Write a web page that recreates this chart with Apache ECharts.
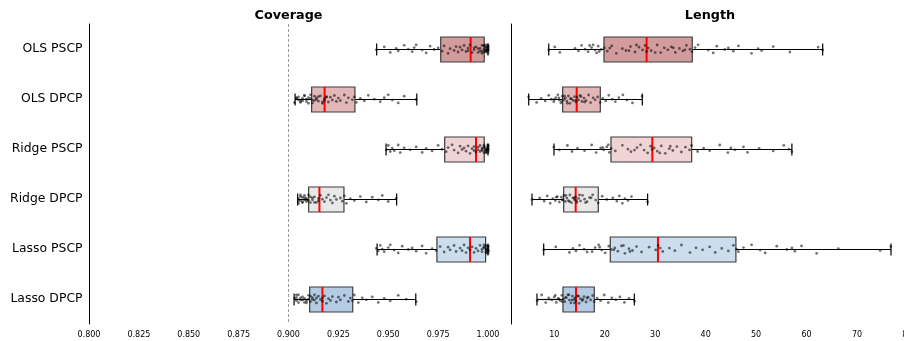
<!DOCTYPE html>
<html>
<head>
<meta charset="utf-8">
<script src="https://cdn.jsdelivr.net/npm/echarts@6/dist/echarts.min.js"></script>
<style>
html,body{margin:0;padding:0;background:#fff;}
#chart{width:904px;height:341px;}
</style>
</head>
<body>
<div id="chart"></div>
<script>
const categories = ['OLS PSCP','OLS DPCP','Ridge PSCP','Ridge DPCP','Lasso PSCP','Lasso DPCP'];
const boxColors = ['#d29b9c','#e2b7b8','#f0d4d5','#e8e8e8','#ccdeed','#b4cce3'];

// [min, Q1, median, Q3, max]
const coverageBoxes = [
  [0.9442, 0.9763, 0.9913, 0.9981, 1.0],
  [0.9033, 0.9116, 0.9181, 0.9333, 0.9643],
  [0.9489, 0.9783, 0.9940, 0.9981, 1.0],
  [0.9046, 0.9101, 0.9155, 0.9278, 0.9542],
  [0.9444, 0.9744, 0.9910, 0.9988, 1.0],
  [0.9028, 0.9106, 0.9170, 0.9322, 0.9638]
];
const lengthBoxes = [
  [8.9, 19.85, 28.3, 37.35, 63.2],
  [4.93, 11.66, 14.44, 19.12, 27.44],
  [9.94, 21.24, 29.43, 37.23, 57.1],
  [5.58, 11.86, 14.24, 18.72, 28.5],
  [7.9, 21.1, 30.55, 46.0, 76.74],
  [6.57, 11.72, 14.3, 17.93, 25.86]
];

const covOlsPscp = [0.944,0.948,0.951,0.954,0.955,0.958,0.960,0.962,0.963,0.964,0.967,0.969,0.971,0.973,0.975,0.977,0.978,0.980,0.981,0.983,0.984,0.985,0.986,0.987,0.988,0.989,0.990,0.990,0.991,0.992,0.993,0.993,0.994,0.995,0.996,0.996,0.997,0.998,0.998,0.999,0.999,1.0,1.0,1.0,1.0,1.0,0.999,0.998,0.997,0.995,1.0,1.0,0.999,0.999,1.0,0.998,0.997,1.0,0.999,1.0];
const covOlsDpcp = [0.903,0.904,0.905,0.905,0.906,0.907,0.907,0.908,0.909,0.909,0.910,0.911,0.912,0.912,0.913,0.914,0.914,0.915,0.916,0.917,0.918,0.918,0.919,0.920,0.921,0.922,0.923,0.924,0.925,0.926,0.928,0.929,0.930,0.932,0.933,0.934,0.936,0.938,0.940,0.943,0.946,0.948,0.950,0.952,0.955,0.958,0.964,0.904,0.906,0.908,0.910,0.911,0.913,0.915,0.917,0.919];
const covRidgePscp = [0.949,0.950,0.951,0.952,0.953,0.955,0.956,0.958,0.961,0.964,0.967,0.969,0.972,0.975,0.977,0.979,0.980,0.982,0.983,0.985,0.986,0.987,0.988,0.989,0.990,0.991,0.992,0.993,0.993,0.994,0.995,0.995,0.996,0.996,0.997,0.997,0.998,0.998,0.999,0.999,1.0,1.0,1.0,1.0,1.0,1.0,0.999,0.998,1.0,1.0,0.999,0.998,0.997,1.0,0.999,1.0];
const covRidgeDpcp = [0.905,0.905,0.906,0.906,0.907,0.907,0.908,0.908,0.909,0.909,0.910,0.910,0.911,0.912,0.912,0.913,0.914,0.915,0.915,0.916,0.917,0.918,0.919,0.920,0.921,0.922,0.923,0.924,0.926,0.927,0.928,0.929,0.931,0.933,0.936,0.939,0.942,0.945,0.947,0.950,0.954,0.905,0.906,0.907,0.908,0.909,0.911,0.913];
const covLassoPscp = [0.944,0.945,0.946,0.947,0.948,0.950,0.951,0.953,0.955,0.957,0.960,0.962,0.964,0.967,0.969,0.972,0.974,0.976,0.978,0.980,0.981,0.983,0.984,0.986,0.987,0.988,0.989,0.990,0.991,0.992,0.993,0.994,0.995,0.996,0.997,0.997,0.998,0.998,0.999,0.999,1.0,1.0,1.0,1.0,1.0,1.0,0.999,1.0,1.0,0.999,0.998,1.0,0.999,1.0];
const covLassoDpcp = [0.903,0.904,0.904,0.905,0.906,0.906,0.907,0.908,0.908,0.909,0.910,0.910,0.911,0.912,0.913,0.913,0.914,0.915,0.916,0.917,0.917,0.918,0.919,0.920,0.921,0.922,0.924,0.925,0.926,0.928,0.930,0.931,0.932,0.933,0.935,0.937,0.939,0.942,0.945,0.948,0.951,0.955,0.959,0.964,0.904,0.905,0.907,0.909,0.911,0.912,0.914];

const lenOlsPscp = [8.9,10.1,11.1,14.1,14.8,15.4,16.1,16.7,17.4,17.7,18.1,18.4,18.7,19.3,19.9,20.5,21.4,22.3,23.5,24.2,25.1,26.0,26.8,27.5,28.0,28.3,28.6,29.2,30.4,31.1,31.8,32.5,33.2,34.0,34.8,35.5,36.2,36.9,37.3,37.9,38.5,40.5,41.5,42.2,43.8,44.5,45.5,46.5,49.1,50.4,51.1,53.4,56.7,62.3,63.2,17.0,18.9,21.0,24.8,26.3,30.0,33.6,35.9];
const lenOlsDpcp = [4.9,6.5,7.4,8.2,8.9,9.4,9.9,10.3,10.7,11.0,11.3,11.6,11.9,12.2,12.5,12.8,13.1,13.4,13.7,14.0,14.3,14.5,14.8,15.1,15.5,15.9,16.3,16.8,17.2,17.7,18.1,18.6,19.1,19.6,20.2,20.8,21.5,22.1,22.8,23.6,24.4,25.5,27.4,10.0,10.9,11.5,12.0,12.6,13.2,14.2,15.3,16.0];
const lenRidgePscp = [9.9,11.0,12.6,13.5,14.6,16.0,17.4,18.3,19.2,19.8,20.4,20.9,21.3,22.1,23.5,24.6,25.2,26.4,27.1,27.8,28.5,29.1,29.4,29.8,30.4,31.2,32.0,32.8,33.5,34.3,35.2,36.0,36.8,37.2,38.4,39.6,40.8,42.8,44.4,45.0,45.8,47.5,48.3,50.6,53.4,55.5,56.5,57.1,19.6,20.7,25.9,30.9,33.0];
const lenRidgeDpcp = [5.6,7.1,8.0,8.6,9.2,9.7,10.2,10.6,11.0,11.4,11.7,11.9,12.2,12.5,12.8,13.1,13.4,13.7,14.0,14.2,14.5,14.8,15.2,15.6,16.0,16.5,17.0,17.6,18.2,18.7,19.5,20.4,21.6,22.4,22.9,23.5,24.0,24.6,25.3,28.5,10.4,11.6,12.3,13.0,13.9,14.4,15.0,16.2,17.3];
const lenLassoPscp = [7.9,10.3,13.0,13.7,14.3,15.0,15.9,17.5,18.1,18.8,19.4,20.1,20.8,21.3,22.0,22.6,23.3,24.0,24.8,25.5,26.3,27.3,28.8,30.1,30.6,31.5,32.8,33.9,35.2,36.9,38.1,39.4,40.8,41.9,43.2,44.5,45.5,46.1,46.5,47.5,49.1,50.8,51.8,54.1,56.1,57.1,57.7,59.0,62.0,66.3,74.6,76.7,16.5,19.0,21.8,23.7,25.0,31.0];
const lenLassoDpcp = [6.6,7.5,8.3,8.9,9.5,10.0,10.4,10.8,11.2,11.5,11.8,12.1,12.4,12.7,13.0,13.3,13.6,13.9,14.1,14.3,14.6,14.9,15.2,15.5,15.9,16.3,16.7,17.2,17.6,17.9,18.5,19.2,19.9,20.7,21.4,22.2,23.0,23.9,24.8,25.9,10.2,10.9,11.6,12.2,12.9,13.5,14.0,14.8,15.7,16.5];

const coveragePoints = [covOlsPscp, covOlsDpcp, covRidgePscp, covRidgeDpcp, covLassoPscp, covLassoDpcp];
const lengthPoints = [lenOlsPscp, lenOlsDpcp, lenRidgePscp, lenRidgeDpcp, lenLassoPscp, lenLassoDpcp];

// strip-plot vertical jitter (pixels), hand-typed and reused cyclically
const jitter = [0.8,-2.1,3.4,-0.6,1.9,-3.7,0.2,2.7,-1.4,-4.2,1.1,3.9,-2.8,0.5,-1.0,2.2,-3.1,4.3,-0.3,1.5,-2.4,3.0,-1.8,0.9,-3.5,2.5,-0.9,1.7,-4.0,3.6,-1.2];

const coverageTicks = [0.8,0.825,0.85,0.875,0.9,0.925,0.95,0.975,1.0];
const lengthTicks = [10,20,30,40,50,60,70,80];

const FONT = 'DejaVu Sans';

function boxData(boxes){ return boxes.map((b,i)=>[i].concat(b)); }
function pointData(groups){
  const out = []; let k = 0;
  groups.forEach((g,i)=>g.forEach(v=>{ out.push([v, i, jitter[k % jitter.length]]); k++; }));
  return out;
}

function renderBox(params, api){
  const cat = api.value(0);
  const pMin = api.coord([api.value(1), cat]);
  const pQ1 = api.coord([api.value(2), cat]);
  const pMed = api.coord([api.value(3), cat]);
  const pQ3 = api.coord([api.value(4), cat]);
  const pMax = api.coord([api.value(5), cat]);
  const band = api.size([0, 1])[1];
  const h = band * 0.5;
  const cy = Math.round(pMed[1]) + 0.5;
  const cap = 6;
  const blk = {stroke:'#000', lineWidth:1.2};
  return {type:'group', children:[
    {type:'line', shape:{x1:pMin[0], y1:cy, x2:pQ1[0], y2:cy}, style:blk},
    {type:'line', shape:{x1:pQ3[0], y1:cy, x2:pMax[0], y2:cy}, style:blk},
    {type:'line', shape:{x1:pMin[0], y1:cy-cap, x2:pMin[0], y2:cy+cap}, style:blk},
    {type:'line', shape:{x1:pMax[0], y1:cy-cap, x2:pMax[0], y2:cy+cap}, style:blk},
    {type:'rect', shape:{x:pQ1[0], y:cy-h/2, width:pQ3[0]-pQ1[0], height:h}, style:{fill:boxColors[cat], stroke:'#3d3d3d', lineWidth:1.2}},
    {type:'line', shape:{x1:pMed[0], y1:cy-h/2, x2:pMed[0], y2:cy+h/2}, style:{stroke:'#ff0000', lineWidth:2}, z2:5}
  ]};
}
function renderPoint(params, api){
  const p = api.coord([api.value(0), api.value(1)]);
  return {type:'circle', shape:{cx:p[0], cy:p[1] + api.value(2), r:1.4}, style:{fill:'rgba(0,0,0,0.55)'}};
}

function yAxis(gi, showLabel){
  return {type:'category', gridIndex:gi, data:categories, inverse:true,
    axisLine:{lineStyle:{color:'#000', width:1}},
    axisTick:{alignWithLabel:true, length:3.5, lineStyle:{color:'#000'}, interval:0},
    axisLabel:{show:showLabel, color:'#000', fontFamily:FONT, fontSize:12.4, margin:6.5, interval:0},
    splitLine:{show:false}};
}
function xAxis(gi, min, max, ticks, fmt){
  return {type:'value', gridIndex:gi, min:min, max:max,
    axisLine:{lineStyle:{color:'#000', width:1}},
    axisTick:{length:3.5, lineStyle:{color:'#000'}, customValues:ticks},
    axisLabel:{color:'#000', fontFamily:FONT, fontSize:8, margin:7, customValues:ticks, formatter:fmt, hideOverlap:false},
    splitLine:{show:false}};
}

const chart = echarts.init(document.getElementById('chart'), null, {renderer:'canvas'});
chart.setOption({
  animation:false,
  backgroundColor:'#fff',
  grid:[
    {left:89, top:24, width:399, height:300, outerBoundsMode:'none', containLabel:false},
    {left:511, top:24, width:398, height:300, outerBoundsMode:'none', containLabel:false}
  ],
  xAxis:[
    xAxis(0, 0.8, 1.0, coverageTicks, v=>v.toFixed(3)),
    xAxis(1, 1.42, 80.31, lengthTicks, v=>String(Math.round(v)))
  ],
  yAxis:[yAxis(0,true), yAxis(1,false)],
  graphic:[
    {type:'text', x:288.5, y:15.5, style:{text:'Coverage', font:'bold 12.8px "DejaVu Sans"', fill:'#000', align:'center', verticalAlign:'middle'}},
    {type:'text', x:710, y:15.5, style:{text:'Length', font:'bold 12.8px "DejaVu Sans"', fill:'#000', align:'center', verticalAlign:'middle'}}
  ],
  series:[
    {type:'custom', xAxisIndex:0, yAxisIndex:0, renderItem:renderBox, data:boxData(coverageBoxes), clip:false, z:2,
      markLine:{silent:true, symbol:'none', label:{show:false}, lineStyle:{color:'#808080', type:[3,2], width:0.8}, data:[{xAxis:0.9}]}},
    {type:'custom', xAxisIndex:1, yAxisIndex:1, renderItem:renderBox, data:boxData(lengthBoxes), clip:false, z:2},
    {type:'custom', xAxisIndex:0, yAxisIndex:0, renderItem:renderPoint, data:pointData(coveragePoints), clip:false, z:3},
    {type:'custom', xAxisIndex:1, yAxisIndex:1, renderItem:renderPoint, data:pointData(lengthPoints), clip:false, z:3}
  ]
});
</script>
</body>
</html>
